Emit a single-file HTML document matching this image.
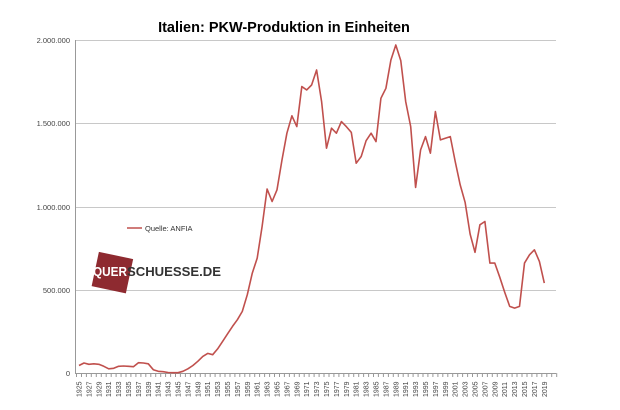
<!DOCTYPE html>
<html><head><meta charset="utf-8"><style>
html,body{margin:0;padding:0;background:#fff;}
svg{display:block;font-family:"Liberation Sans",sans-serif;}
</style></head><body>
<svg id="s" width="620" height="410" viewBox="0 0 620 410">
<text x="284" y="32" text-anchor="middle" font-size="14.5" font-weight="bold" fill="#000">Italien: PKW-Produktion  in Einheiten</text>
<g stroke="#c8c8c8" stroke-width="1">
<line x1="76" y1="40.5" x2="556" y2="40.5"/>
<line x1="76" y1="123.5" x2="556" y2="123.5"/>
<line x1="76" y1="207.5" x2="556" y2="207.5"/>
<line x1="76" y1="290.5" x2="556" y2="290.5"/>
</g>
<line x1="75.5" y1="40" x2="75.5" y2="374" stroke="#999"/>
<line x1="75" y1="373.5" x2="556" y2="373.5" stroke="#999"/>
<g font-size="7.5" fill="#444" text-anchor="end">
<text x="70" y="43">2.000.000</text>
<text x="70" y="126">1.500.000</text>
<text x="70" y="210">1.000.000</text>
<text x="70" y="293">500.000</text>
<text x="70" y="376">0</text>
</g>
<g id="ticks" stroke="#999"></g>
<g id="lbl" font-size="7" fill="#444"></g>
<rect x="95" y="255" width="35" height="35" fill="#8e2a30" transform="rotate(12 112 272)"/>
<text x="93" y="276" font-size="13" font-weight="bold" fill="#fff" textLength="34" lengthAdjust="spacingAndGlyphs">QUER</text>
<text x="127" y="276" font-size="13" font-weight="bold" fill="#333" textLength="94" lengthAdjust="spacingAndGlyphs">SCHUESSE.DE</text>
<line x1="127" y1="228" x2="142" y2="228" stroke="#c0504d" stroke-width="1.5"/>
<text x="145" y="231" font-size="7.5" fill="#333">Quelle: ANFIA</text>
<polyline id="p" fill="none" stroke="#c0504d" stroke-width="1.6" stroke-linejoin="round"/>
</svg>
<script>
var d=[45,60,52,55,52,40,25,28,40,42,40,38,62,60,55,20,10,8,3,2,2,10,25,45,70,100,118,110,145,190,235,280,320,370,470,600,690,880,1105,1030,1100,1280,1440,1545,1480,1720,1700,1730,1820,1630,1350,1470,1440,1510,1480,1445,1260,1300,1395,1440,1390,1650,1710,1880,1970,1875,1630,1480,1115,1340,1420,1320,1570,1400,1410,1420,1270,1130,1025,835,725,890,910,660,660,575,485,400,390,400,660,710,740,670,540];
var pts=[],w=4.95;
for(var i=0;i<d.length;i++){pts.push((79+i*w).toFixed(1)+","+(373-d[i]*0.1665).toFixed(1));}
document.getElementById('p').setAttribute('points',pts.join(' '));
var t='',l='';
for(var i=0;i<=97;i++){var x=(76.5+i*w).toFixed(1);t+='<line x1="'+x+'" y1="373" x2="'+x+'" y2="377"/>';}
for(var y=1925;y<=2019;y+=2){var x=79+(y-1925)*w+2.5;l+='<text transform="translate('+x.toFixed(1)+',397) rotate(-90)">'+y+'</text>';}
document.getElementById('ticks').innerHTML=t;
document.getElementById('lbl').innerHTML=l;
</script>
</body></html>
